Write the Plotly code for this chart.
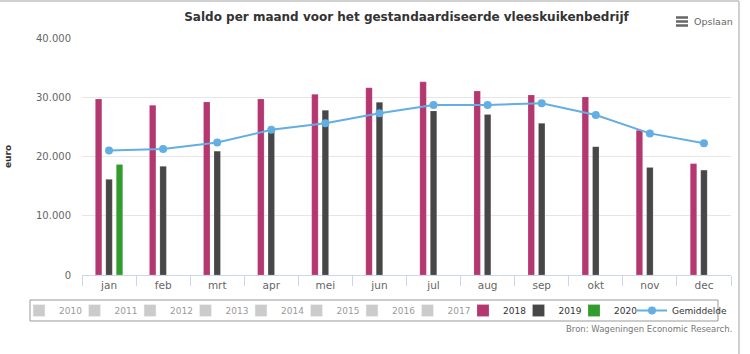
import plotly.graph_objects as go

months = ["jan", "feb", "mrt", "apr", "mei", "jun", "jul", "aug", "sep", "okt", "nov", "dec"]
hidden_years = ["2010", "2011", "2012", "2013", "2014", "2015", "2016", "2017"]
v2018 = [29700, 28650, 29200, 29700, 30500, 31600, 32600, 31050, 30400, 30050, 24450, 18800]
v2019 = [16150, 18350, 20900, 24450, 27800, 29150, 27700, 27100, 25600, 21650, 18150, 17700]
v2020 = [18650, None, None, None, None, None, None, None, None, None, None, None]
gemiddelde = [21000, 21250, 22350, 24500, 25600, 27300, 28700, 28700, 29000, 27000, 23900, 22250]
yticks = [0, 10000, 20000, 30000, 40000]

FONT = "DejaVu Sans"
PW, PH, L, T = 649, 237, 82, 38


def px(x):
    return (x - L) / PW


def py(y):
    return (T + PH - y) / PH


fig = go.Figure()

for y in hidden_years:
    fig.add_trace(go.Bar(x=months, y=[None] * 12, name=y, visible="legendonly",
                         marker=dict(color="#999999")))

bar_line = dict(color="rgba(255,255,255,0.35)", width=0.5)
fig.add_trace(go.Bar(x=months, y=v2018, name="2018", marker=dict(color="#b5376f", line=bar_line)))
fig.add_trace(go.Bar(x=months, y=v2019, name="2019", marker=dict(color="#474747", line=bar_line)))
fig.add_trace(go.Bar(x=months, y=v2020, name="2020", marker=dict(color="#339c2e", line=bar_line)))
# spacer entry so that the "2020" label is not clipped at the end of the first legend
fig.add_trace(go.Scatter(x=[None], y=[None], name=" ", mode="markers",
                         marker=dict(color="rgba(0,0,0,0)"), hoverinfo="skip"))
fig.add_trace(go.Scatter(x=months, y=gemiddelde, name="Gemiddelde", mode="lines+markers",
                         line=dict(color="#63aee3", width=2),
                         marker=dict(color="#63aee3", size=8), legend="legend2"))

leg_common = dict(orientation="h", y=py(296), yanchor="top", xanchor="left",
                  borderwidth=0, bgcolor="rgba(0,0,0,0)",
                  font=dict(family=FONT, size=9, color="#333333"), traceorder="normal")

fig.update_layout(
    width=750, height=354,
    margin=dict(l=L, r=750 - L - PW, t=T, b=354 - T - PH, autoexpand=False),
    paper_bgcolor="white", plot_bgcolor="white",
    separators=",.",
    barmode="group", bargap=0.42, bargroupgap=0.38,
    font=dict(family=FONT, size=11, color="#333333"),
    title=dict(text="<b>Saldo per maand voor het gestandaardiseerde vleeskuikenbedrijf</b>",
               x=0.5, xref="paper", xanchor="center", y=0.952, yanchor="middle",
               font=dict(family=FONT, size=12, color="#333333")),
    xaxis=dict(type="category", range=[-0.5, 11.5], tickson="boundaries", ticks="outside", ticklen=10,
               tickcolor="#ccd6eb", showline=True, linecolor="#ccd6eb", linewidth=1,
               showgrid=False, tickfont=dict(family=FONT, size=10.5, color="#666666"),
               automargin=False, fixedrange=True),
    yaxis=dict(range=[0, 40000], tickvals=yticks, tickformat=",d",
               showgrid=True, gridcolor="#e6e6e6", zeroline=False,
               tickfont=dict(family=FONT, size=10, color="#666666"),
               ticklabelstandoff=10, automargin=False),
    legend=dict(**leg_common, x=px(19), entrywidth=10.5, entrywidthmode="pixels", itemwidth=30),
    legend2=dict(**leg_common, x=px(632)),
    showlegend=True,
)

# legend frame
fig.add_shape(type="rect", xref="paper", yref="paper",
              x0=px(30), x1=px(718), y0=py(300), y1=py(321),
              line=dict(color="#999999", width=1), layer="below")

fig.add_annotation(text="<b>euro</b>", xref="paper", yref="paper",
                   x=px(8), y=py(157), textangle=-90,
                   xanchor="center", yanchor="middle", showarrow=False,
                   font=dict(family=FONT, size=9, color="#333333"))

# "Opslaan" menu
for yy in [17.5, 21.5, 25.5]:
    fig.add_shape(type="line", xref="paper", yref="paper",
                  x0=px(676), x1=px(688), y0=py(yy), y1=py(yy),
                  line=dict(color="#666666", width=2.5))
fig.add_annotation(text="Opslaan", xref="paper", yref="paper",
                   x=px(692), y=py(22), xanchor="left", yanchor="middle",
                   showarrow=False, font=dict(family=FONT, size=9.5, color="#666666"))
fig.add_annotation(text="Bron: Wageningen Economic Research.", xref="paper", yref="paper",
                   x=px(734), y=py(329), xanchor="right", yanchor="middle",
                   showarrow=False, font=dict(family=FONT, size=8.5, color="#777777"))

# outer frame (top and right)
fig.add_shape(type="line", xref="paper", yref="paper",
              x0=px(0), x1=px(739), y0=py(1), y1=py(1),
              line=dict(color="#d0d0d0", width=2))
fig.add_shape(type="line", xref="paper", yref="paper",
              x0=px(739), x1=px(739), y0=py(1), y1=py(354),
              line=dict(color="#d0d0d0", width=2))

fig.write_html("out.html", config={"displayModeBar": False})
